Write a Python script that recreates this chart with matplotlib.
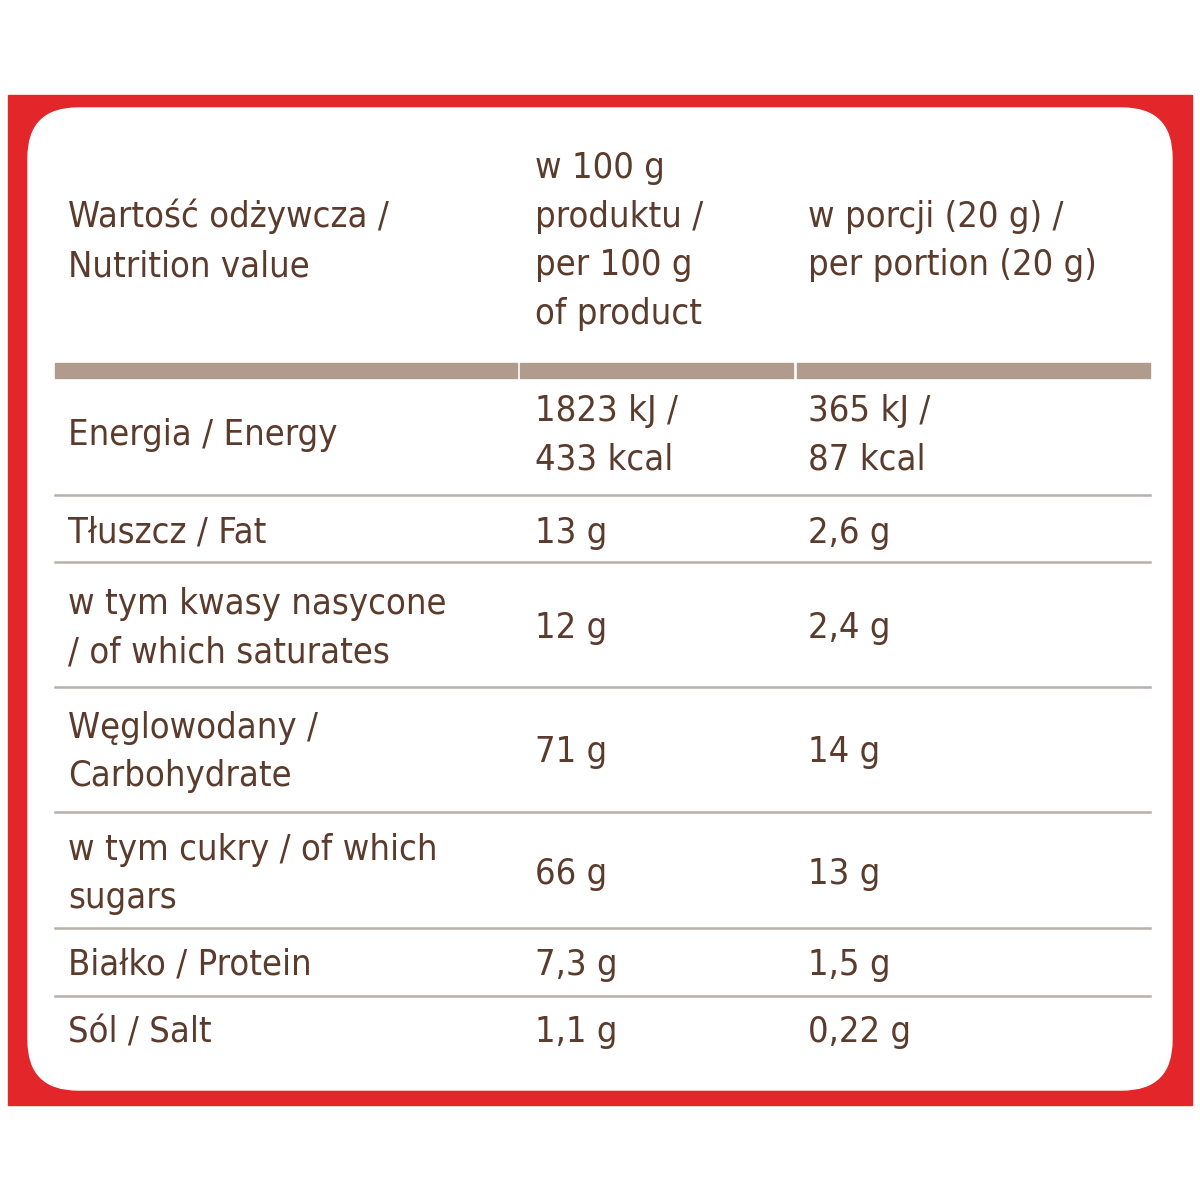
import matplotlib
matplotlib.use("Agg")
import matplotlib.pyplot as plt
from matplotlib.patches import Rectangle, FancyBboxPatch

header = ["Wartość odżywcza /\nNutrition value", "w 100 g\nproduktu /\nper 100 g\nof product", "w porcji (20 g) /\nper portion (20 g)"]
nutrients = ["Energia / Energy", "Tłuszcz / Fat", "w tym kwasy nasycone\n/ of which saturates",
             "Węglowodany /\nCarbohydrate", "w tym cukry / of which\nsugars", "Białko / Protein", "Sól / Salt"]
per100 = ["1823 kJ /\n433 kcal", "13 g", "12 g", "71 g", "66 g", "7,3 g", "1,1 g"]
perportion = ["365 kJ /\n87 kcal", "2,6 g", "2,4 g", "14 g", "13 g", "1,5 g", "0,22 g"]

row_bounds = [375, 495, 562, 687, 812, 928, 996, 1070]
col_x = [68, 535, 808]
brown = "#5b3b2c"
fam = ["DejaVu Sans Condensed", "Liberation Sans Narrow", "DejaVu Sans"]

fig = plt.figure(figsize=(12, 12), dpi=100)
ax = fig.add_axes([0, 0, 1, 1])
ax.set_xlim(0, 1200); ax.set_ylim(1200, 0); ax.axis("off")
ax.add_patch(Rectangle((8, 95), 1184, 1010, color="#e3262a", zorder=0))
ax.add_patch(FancyBboxPatch((28, 108), 1144, 982, boxstyle="round,pad=0,rounding_size=50",
                            color="white", zorder=1))
for x0, x1 in [(55, 517), (520, 793), (797, 1150)]:
    ax.add_patch(Rectangle((x0, 363), x1 - x0, 15, color="#b09b8d", zorder=2))
for y in row_bounds[1:-1]:
    ax.plot([55, 1150], [y, y], color="#b8b0ab", lw=1.8, zorder=2)

kw = dict(family=fam, fontstretch="condensed", fontsize=26, color=brown, va="center",
          ha="left", linespacing=1.55, zorder=3)
ax.text(col_x[0], 241, header[0], **kw)
ax.text(col_x[1], 241, header[1], **kw)
ax.text(col_x[2], 241, header[2], **kw)
centers = [435, 533, 628, 752, 874, 965, 1032]
for c, a, b, d in zip(centers, nutrients, per100, perportion):
    ax.text(col_x[0], c, a, **kw)
    ax.text(col_x[1], c, b, **kw)
    ax.text(col_x[2], c, d, **kw)
fig.savefig("out.png", dpi=100, facecolor="white")
